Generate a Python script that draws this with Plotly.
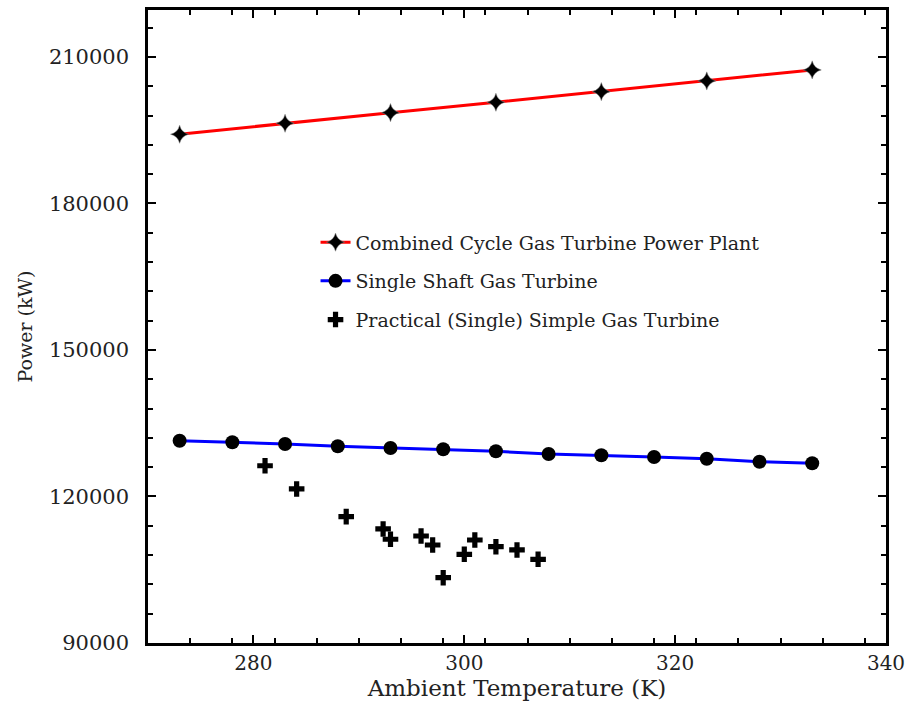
import plotly.graph_objects as go

# Combined cycle gas turbine power plant
cc_temp = [273, 283, 293, 303, 313, 323, 333]
cc_power = [194180, 196430, 198600, 200730, 202900, 205090, 207350]

# Single shaft gas turbine
ss_temp = [273, 278, 283, 288, 293, 298, 303, 308, 313, 318, 323, 328, 333]
ss_power = [131430, 131100, 130750, 130280, 129930, 129660, 129250,
            128700, 128440, 128090, 127740, 127130, 126800]

# Practical (single) simple gas turbine
pr_temp = [281.1, 284.1, 288.8, 292.3, 293.0, 295.9, 297.0, 298.0,
           300.0, 301.0, 303.0, 305.0, 307.0]
pr_power = [126300, 121540, 115870, 113350, 111240, 111910, 110070,
            103370, 108160, 111090, 109720, 109050, 107140]

x_ticks = [280, 300, 320, 340]
y_ticks = [90000, 120000, 150000, 180000, 210000]

serif = "DejaVu Serif"

fig = go.Figure()
fig.add_trace(go.Scatter(
    x=cc_temp, y=cc_power, mode="lines+markers",
    name="Combined Cycle Gas Turbine Power Plant", legendgroup="a",
    line=dict(color="#ff0000", width=3),
    marker=dict(symbol="star-diamond", size=13, color="black",
                line=dict(color="#888888", width=0.5))))
fig.add_trace(go.Scatter(
    x=ss_temp, y=ss_power, mode="lines+markers",
    name="Single Shaft Gas Turbine", legendgroup="b",
    line=dict(color="#0000ff", width=3),
    marker=dict(symbol="circle", size=14, color="black")))
fig.add_trace(go.Scatter(
    x=pr_temp, y=pr_power, mode="markers",
    name="Practical (Single) Simple Gas Turbine", legendgroup="c",
    marker=dict(symbol="cross", size=13, color="black")))

axis_common = dict(
    showline=True, linecolor="black", linewidth=2.5, mirror="ticks",
    ticks="inside", ticklen=8, tickwidth=2, tickcolor="black",
    showgrid=False, zeroline=False, ticklabeloverflow="allow",
    automargin=False,
)

fig.update_xaxes(
    range=[270, 340], tickvals=x_ticks,
    tickfont=dict(family=serif, size=20, color="#222222"),
    minor=dict(dtick=4, tick0=270, ticks="inside", ticklen=5, tickwidth=2, tickcolor="black", showgrid=False),
    title=dict(text="Ambient Temperature (K)", font=dict(family=serif, size=23, color="#222222"), standoff=2),
    **axis_common)
fig.update_yaxes(
    range=[90000, 219620], tickvals=y_ticks, tickformat="d",
    tickfont=dict(family=serif, size=21, color="#222222"), ticklabelstandoff=12,
    minor=dict(dtick=6000, tick0=90000, ticks="inside", ticklen=5, tickwidth=2, tickcolor="black", showgrid=False),
    title=dict(text="Power (kW)", font=dict(family=serif, size=19, color="#222222"), standoff=12),
    **axis_common)

fig.update_layout(
    width=906, height=708,
    margin=dict(l=148, r=20, t=10, b=65),
    plot_bgcolor="white", paper_bgcolor="white",
    font=dict(family=serif),
    legend=dict(x=0.227, y=0.663, xanchor="left", yanchor="top",
                font=dict(family=serif, size=19, color="#222222"),
                bgcolor="rgba(0,0,0,0)", tracegroupgap=11),
)

fig.write_html("out.html")
